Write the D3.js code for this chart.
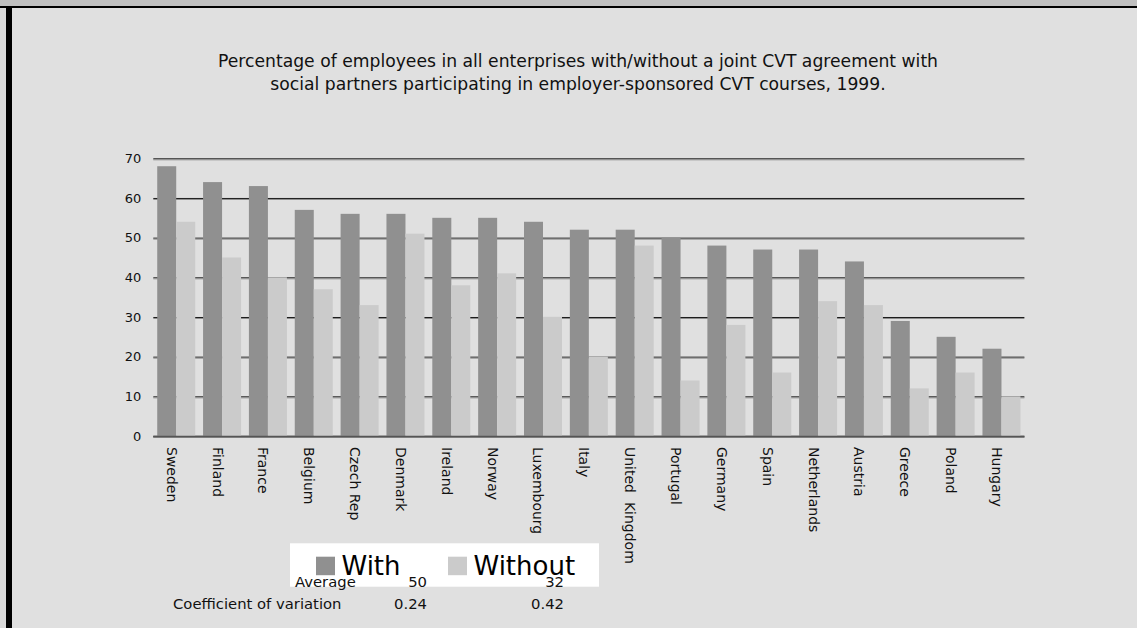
<!DOCTYPE html>
<html>
<head>
<meta charset="utf-8">
<script src="https://cdn.jsdelivr.net/npm/d3@7"></script>
<style>
  body { margin: 0; background: #e0e0e0; }
  svg { display: block; font-family: "DejaVu Sans", Verdana, sans-serif; }
</style>
</head>
<body>
<div id="wrapper"></div>
<script>
const countries = ["Sweden", "Finland", "France", "Belgium", "Czech Rep", "Denmark",
  "Ireland", "Norway", "Luxembourg", "Italy", "United  Kingdom", "Portugal", "Germany",
  "Spain", "Netherlands", "Austria", "Greece", "Poland", "Hungary"]
const withValues = [68, 64, 63, 57, 56, 56, 55, 55, 54, 52, 52, 50, 48, 47, 47, 44, 29, 25, 22]
const withoutValues = [54, 45, 40, 37, 33, 51, 38, 41, 30, 20, 48, 14, 28, 16, 34, 33, 12, 16, 10]
const seriesNames = ["With", "Without"]
const yTicks = [0, 10, 20, 30, 40, 50, 60, 70]
const averages = [50, 32]
const variations = ["0.24", "0.42"]
const titleLines = [
  "Percentage of employees in all enterprises with/without a joint CVT agreement with",
  "social partners participating in employer-sponsored CVT courses, 1999."
]

function drawChart() {
  const dataset = countries.map((c, i) => ({
    country: c,
    values: [withValues[i], withoutValues[i]]
  }))

  let dimensions = {
    width: 1137,
    height: 628,
    margin: { top: 158.3, right: 112.6, bottom: 192, left: 153.3 },
  }
  dimensions.boundedWidth = dimensions.width - dimensions.margin.left - dimensions.margin.right
  dimensions.boundedHeight = dimensions.height - dimensions.margin.top - dimensions.margin.bottom

  const wrapper = d3.select("#wrapper")
    .append("svg")
      .attr("width", dimensions.width)
      .attr("height", dimensions.height)

  // frame
  wrapper.append("rect").attr("width", dimensions.width).attr("height", dimensions.height).attr("fill", "#e0e0e0")
  wrapper.append("rect").attr("width", dimensions.width).attr("height", 6).attr("fill", "#c0c0c0")
  wrapper.append("rect").attr("y", 6).attr("width", 6).attr("height", dimensions.height).attr("fill", "#d8d8d8")
  wrapper.append("rect").attr("y", 6).attr("width", dimensions.width).attr("height", 2).attr("fill", "#000")
  wrapper.append("rect").attr("x", 6).attr("y", 6).attr("width", 6).attr("height", dimensions.height).attr("fill", "#000")

  // title
  wrapper.append("text")
      .attr("text-anchor", "middle")
      .style("font-size", "17.2px")
      .attr("fill", "#111")
    .selectAll("tspan")
    .data(titleLines)
    .join("tspan")
      .attr("x", 578)
      .attr("y", (d, i) => 67.3 + i * 22.2)
      .text(d => d)

  const bounds = wrapper.append("g")
      .attr("transform", `translate(${dimensions.margin.left},${dimensions.margin.top})`)

  // scales
  const xScale = d3.scaleBand()
    .domain(countries)
    .range([0, dimensions.boundedWidth])
    .paddingInner(0.171)
    .paddingOuter(0.0855)

  const x1Scale = d3.scaleBand()
    .domain(seriesNames)
    .range([0, xScale.bandwidth()])

  const yScale = d3.scaleLinear()
    .domain([0, 70])
    .range([dimensions.boundedHeight, 0])

  const colour = d3.scaleOrdinal()
    .domain(seriesNames)
    .range(["#909090", "#cbcbcb"])

  // grid lines (axis)
  const yAxisGenerator = d3.axisLeft(yScale)
    .tickValues(yTicks)
    .tickSize(-dimensions.boundedWidth)
    .tickPadding(12)

  const yAxis = bounds.append("g").call(yAxisGenerator)
  yAxis.select(".domain").remove()
  yAxis.selectAll(".tick line")
    .attr("stroke", d => d === 0 ? "#4a4a4a" : "#1a1a1a")
    .attr("stroke-width", d => d === 0 ? 1.6 : 1)
  yAxis.selectAll(".tick")
    .append("line")
      .attr("x2", dimensions.boundedWidth)
      .attr("y1", 1)
      .attr("y2", 1)
      .attr("stroke", "#8c8c8c")
      .attr("stroke-width", 1)
  yAxis.selectAll(".tick text")
    .style("font-size", "13px")
    .style("font-family", "DejaVu Sans, sans-serif")
    .attr("fill", "#111")

  // bars
  const barGroups = bounds.selectAll(".bar-group")
    .data(dataset)
    .join("g")
      .attr("class", "bar-group")
      .attr("transform", d => `translate(${xScale(d.country)},0)`)

  barGroups.selectAll("rect")
    .data(d => d.values.map((v, i) => ({ key: seriesNames[i], value: v })))
    .join("rect")
      .attr("x", d => x1Scale(d.key))
      .attr("y", d => yScale(d.value))
      .attr("width", x1Scale.bandwidth())
      .attr("height", d => yScale(0) - yScale(d.value))
      .attr("fill", d => colour(d.key))

  // baseline
  bounds.append("line")
      .attr("x2", dimensions.boundedWidth)
      .attr("y1", yScale(0) + 0.5)
      .attr("y2", yScale(0) + 0.5)
      .attr("stroke", "#555")
      .attr("stroke-width", 1.5)

  // category labels, rotated
  bounds.selectAll(".cat-label")
    .data(countries)
    .join("text")
      .attr("class", "cat-label")
      .attr("transform", d => `translate(${xScale(d) + 9.5},${dimensions.boundedHeight + 11}) rotate(90)`)
      .style("font-size", "14px")
      .style("white-space", "pre")
      .attr("fill", "#111")
      .text(d => d)

  // legend
  const legend = wrapper.append("g")
  legend.append("rect")
      .attr("x", 290)
      .attr("y", 543.3)
      .attr("width", 309)
      .attr("height", 43.4)
      .attr("fill", "#fff")

  const legendX = d3.scaleOrdinal().domain(seriesNames).range([316, 448])
  const legendItems = legend.selectAll(".legend-item")
    .data(seriesNames)
    .join("g")
      .attr("class", "legend-item")
      .attr("transform", d => `translate(${legendX(d)},0)`)
  legendItems.append("rect")
      .attr("y", 556.7)
      .attr("width", 19)
      .attr("height", 18.5)
      .attr("fill", d => colour(d))
  legendItems.append("text")
      .attr("x", 25.5)
      .attr("y", 575)
      .style("font-size", "26px")
      .attr("fill", "#000")
      .text(d => d)

  // summary rows
  const stats = wrapper.append("g").style("font-size", "14.8px").attr("fill", "#111")
  stats.append("text").attr("x", 295).attr("y", 587.3).text("Average")
  stats.append("text").attr("x", 173).attr("y", 609).text("Coefficient of variation")
  const statX = d3.scaleOrdinal().domain(seriesNames).range([427, 564])
  stats.selectAll(".avg")
    .data(seriesNames)
    .join("text")
      .attr("class", "avg")
      .attr("text-anchor", "end")
      .attr("x", d => statX(d))
      .attr("y", 587.3)
      .text((d, i) => averages[i])
  stats.selectAll(".cv")
    .data(seriesNames)
    .join("text")
      .attr("class", "cv")
      .attr("text-anchor", "end")
      .attr("x", d => statX(d))
      .attr("y", 609)
      .text((d, i) => variations[i])
}
drawChart()
</script>
</body>
</html>
